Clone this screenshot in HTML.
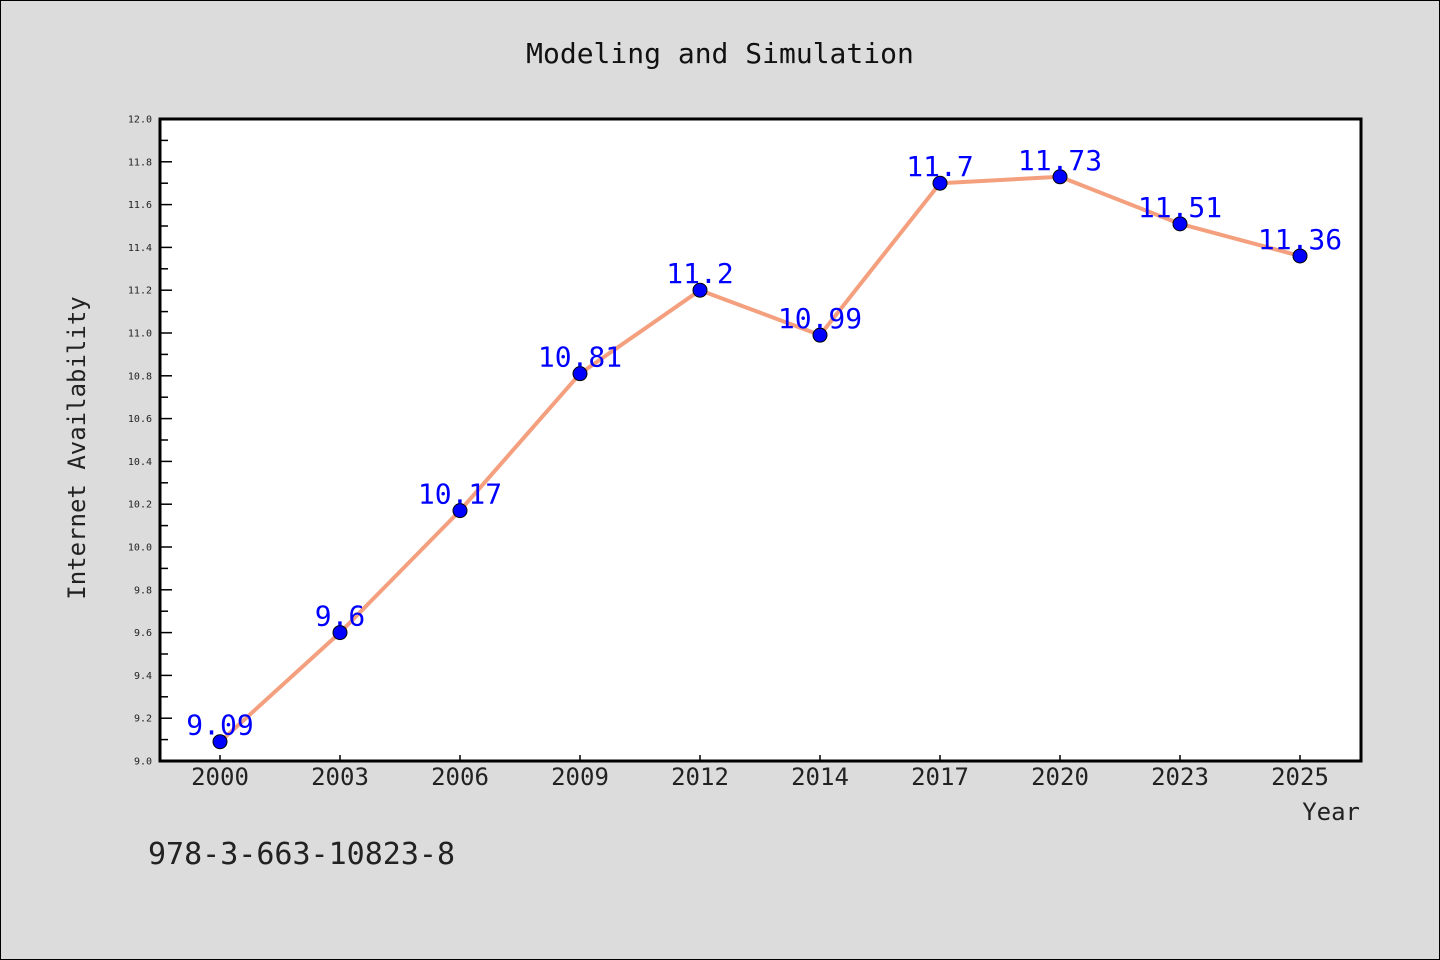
<!DOCTYPE html>
<html><head><meta charset="utf-8"><style>
html,body{margin:0;padding:0;background:#dcdcdc;}
svg{display:block;font-family:"WenQuanYi Zen Hei","DejaVu Sans Mono",sans-serif;}
</style></head><body>
<svg id="chart" width="1440" height="960" xmlns="http://www.w3.org/2000/svg">
<rect x="0.5" y="0.5" width="1439" height="959" fill="#dcdcdc" stroke="#000" stroke-width="1"/>
<text x="720" y="63" text-anchor="middle" font-size="28" fill="#111">Modeling and Simulation</text>
<rect x="160" y="119" width="1201" height="642" fill="#fff"/>
<g id="yticks"></g><g id="xticks"></g>
<rect x="160" y="119" width="1201" height="642" fill="none" stroke="#000" stroke-width="3"/>
<g id="series"></g>
<text transform="translate(85,448) rotate(-90)" text-anchor="middle" font-size="24" fill="#222">Internet Availability</text>
<text x="1360" y="820" text-anchor="end" font-size="24" fill="#222">Year</text>
<text x="148" y="864" font-size="30" fill="#222">978-3-663-10823-8</text>
</svg>
<script>
const categories=["2000","2003","2006","2009","2012","2014","2017","2020","2023","2025"];
const values=[9.09,9.6,10.17,10.81,11.2,10.99,11.7,11.73,11.51,11.36];
const yTicks=[9.0,9.2,9.4,9.6,9.8,10.0,10.2,10.4,10.6,10.8,11.0,11.2,11.4,11.6,11.8,12.0];
const yMin=9.0,yMax=12.0;
const NS="http://www.w3.org/2000/svg";
const L=160,R=1361,T=119,B=761;
function y(v){return B-(v-yMin)/(yMax-yMin)*(B-T);}
function x(i){return 220+i*120;}
function mk(tag,attrs,parent){const e=document.createElementNS(NS,tag);for(const k in attrs)e.setAttribute(k,attrs[k]);parent.appendChild(e);return e;}
const yg=document.getElementById('yticks'),xg=document.getElementById('xticks'),sg=document.getElementById('series');
yTicks.forEach((v,i)=>{
  const t=mk('line',{x1:L,x2:L+12,y1:y(v),y2:y(v),stroke:'#000','stroke-width':1.5},yg);
  
  
  if(i<yTicks.length-1){const m=mk('line',{x1:L,x2:L+8,y1:y(v+0.1),y2:y(v+0.1),stroke:'#000','stroke-width':1.5},yg);
  
  }
  const lb=mk('text',{x:L-8,y:y(v)+3.5,'text-anchor':'end','font-size':10,fill:'#222'},yg);
  lb.textContent=v.toFixed(1);
  
  
});
categories.forEach((c,i)=>{
  const t=mk('line',{x1:x(i),x2:x(i),y1:B,y2:B-6,stroke:'#000','stroke-width':1.5},xg);
  
  
  const lb=mk('text',{x:x(i),y:785,'text-anchor':'middle','font-size':24,fill:'#222'},xg);
  lb.textContent=c;
  
  
});
const pts=values.map((v,i)=>x(i)+','+y(v)).join(' ');
const pl=mk('polyline',{points:pts,fill:'none',stroke:'#f4a07f','stroke-width':4,'stroke-linejoin':'round'},sg);


values.forEach((v,i)=>{
  const c=mk('circle',{cx:x(i),cy:y(v),r:7,fill:'#0000ff',stroke:'#000','stroke-width':1},sg);
  
  
});
values.forEach((v,i)=>{
  const lb=mk('text',{x:x(i),y:y(v)-7,'text-anchor':'middle','font-size':28,fill:'#0000ff'},sg);
  lb.textContent=String(v);
  
  
});
</script>
</body></html>
